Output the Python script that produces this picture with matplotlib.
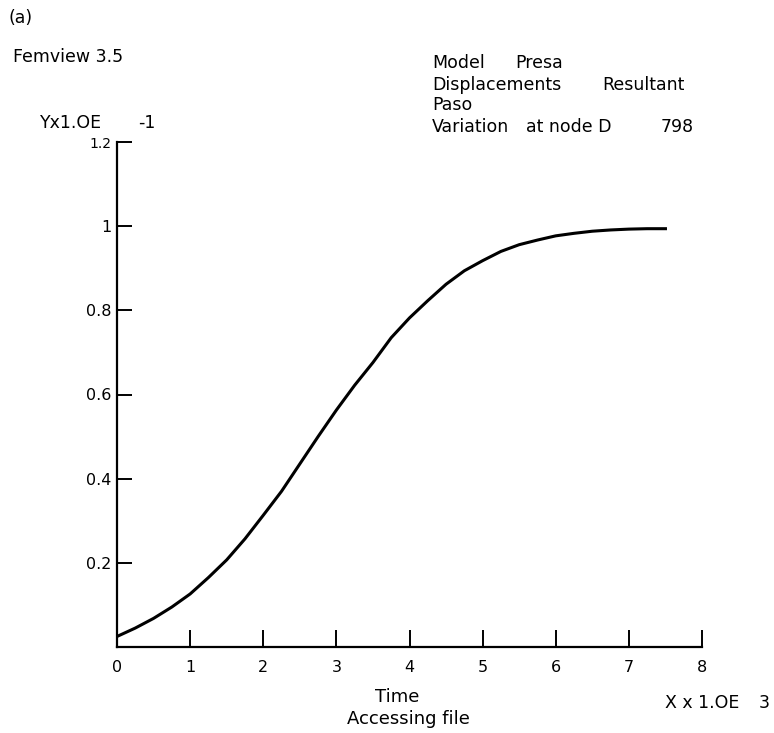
import numpy as np
import matplotlib
matplotlib.use("Agg")
import matplotlib.pyplot as plt

# curve (time in 1.0E3, displacement in 1.0E-1)
time = [0, 0.25, 0.5, 0.75, 1, 1.25, 1.5, 1.75, 2, 2.25, 2.5, 2.75, 3, 3.25,
        3.5, 3.75, 4, 4.25, 4.5, 4.75, 5, 5.25, 5.5, 5.75, 6, 6.25, 6.5, 6.75,
        7, 7.25, 7.5]
disp = [0.025, 0.045, 0.068, 0.095, 0.126, 0.165, 0.207, 0.257, 0.313, 0.37,
        0.435, 0.5, 0.563, 0.622, 0.676, 0.735, 0.782, 0.823, 0.862, 0.894,
        0.918, 0.94, 0.956, 0.967, 0.977, 0.983, 0.988, 0.991, 0.993, 0.994,
        0.994]

xticks = [0, 1, 2, 3, 4, 5, 6, 7, 8]
yticks = [0.2, 0.4, 0.6, 0.8, 1.0, 1.2]
ytick_labels = ['0.2', '0.4', '0.6', '0.8', '1', '1.2']

W, H = 774, 733
fig = plt.figure(figsize=(W / 100, H / 100), dpi=100)
ax = fig.add_axes([117 / W, 1 - 647 / H, (702 - 117) / W, (647 - 142) / H])

ax.plot(time, disp, color='black', lw=2.2, solid_joinstyle='round')

ax.set_xlim(0, 8)
ax.set_ylim(0, 1.2)
ax.set_xticks(xticks)
ax.set_xticklabels([str(t) for t in xticks])
ax.set_yticks(yticks)
ax.set_yticklabels(ytick_labels)
ax.tick_params(axis='x', direction='in', length=12, width=1.4, pad=9, labelsize=11.5)
ax.tick_params(axis='y', direction='in', length=11, width=1.4, pad=4, labelsize=11.5)
ax.get_yticklabels()[-1].set_fontsize(10)  # the 1.2 label is printed smaller
for s in ['top', 'right']:
    ax.spines[s].set_visible(False)
for s in ['left', 'bottom']:
    ax.spines[s].set_linewidth(1.6)
ax.patch.set_alpha(0)


def px_text(x, y, s, **kw):
    # place text by reference pixel position
    fig.text(x / W, 1 - y / H, s, va='center', ha=kw.pop('ha', 'left'),
             fontsize=kw.pop('fontsize', 12.5), **kw)


px_text(8, 18, '(a)')
px_text(13, 57, 'Femview 3.5')
px_text(40, 123, 'Yx1.OE')
px_text(138, 123, '-1')

px_text(432, 63, 'Model')
px_text(515, 63, 'Presa')
px_text(432, 85, 'Displacements')
px_text(602, 85, 'Resultant')
px_text(432, 105, 'Paso')
px_text(432, 127, 'Variation')
px_text(526, 127, 'at node D')
px_text(661, 127, '798')

px_text(397, 697, 'Time', ha='center', fontsize=13)
px_text(408, 719, 'Accessing file', ha='center', fontsize=13)
px_text(665, 703, 'X x 1.OE')
px_text(759, 703, '3')

fig.savefig('out.png', dpi=100)
